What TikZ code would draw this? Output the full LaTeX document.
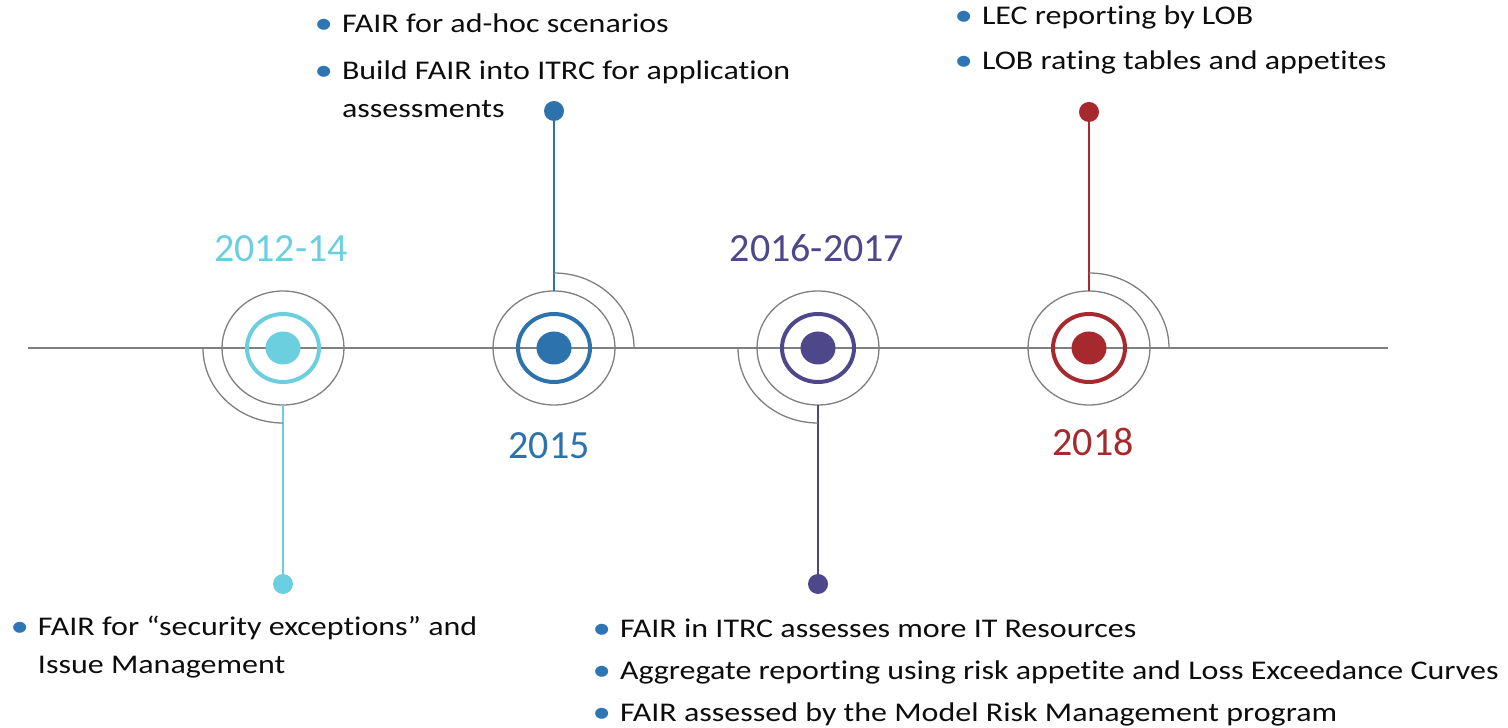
\documentclass[tikz,border=0pt]{standalone}
\usepackage{fontspec}
\setmainfont{Carlito}
\newfontfamily\wide[FakeStretch=1.185,Ligatures=NoCommon]{Carlito}
\usetikzlibrary{positioning,shapes.geometric}
\definecolor{cyanc}{HTML}{6CCFE0}
\definecolor{bluec}{HTML}{2C72AC}
\definecolor{purpc}{HTML}{4E4789}
\definecolor{redc}{HTML}{A6292D}
\definecolor{gline}{HTML}{7F7F7F}
\definecolor{bulc}{HTML}{2E75B6}
\definecolor{txt}{HTML}{0D0D0D}
\newcommand\dotb{\makebox[24pt][l]{\hspace*{-3.5pt}\color{bulc}\raisebox{-0.6pt}{\scalebox{1.15}{\textbullet}}}}
\newcommand\hang{\hspace*{24pt}}

\begin{document}
\begin{tikzpicture}[x=1pt,y=1pt,
  every node/.style={inner sep=0pt,outer sep=0pt},
  year/.style={font=\fontsize{40}{48}\selectfont,anchor=base},
  item/.style={font=\wide\fontsize{27}{38.5}\selectfont,anchor=base west,align=left,text=txt},
  ring/.style={draw=gline,line width=1.3pt,ellipse,minimum width=122pt,minimum height=114pt},
  band/.style={draw=#1,line width=4pt,ellipse,minimum width=72pt,minimum height=68pt},
  core/.style={fill=#1,ellipse,minimum width=35pt,minimum height=33pt},
  pin/.style={fill=#1,circle,minimum size=20pt},
  stem/.style={draw=#1,line width=2pt},
  gl/.style={draw=gline,line width=1.3pt}]
  \useasboundingbox (0,0) rectangle (1508,728);
  \coordinate (lft) at (28,380);
  \coordinate (rgt) at (1388,380);
  \draw[gl] (lft) -- (rgt);

  % 2012-14
  \node[ring] (o1) at (283,380) {};
  \node[band=cyanc] (b1) at (o1) {};
  \node[core=cyanc] (c1) at (o1) {};
  \node[pin=cyanc] (p1) at (283,144) {};
  \draw[stem=cyanc] (o1.south) -- (p1);
  \draw[gl] (o1.center) ++(-80,0) arc[start angle=180,end angle=270,x radius=80,y radius=75];
  \node[year,text=cyanc] (y1) at (281,466) {2012-14};
  \node[item] (t1) at (14,54) {\dotb FAIR for “security exceptions” and\\\hang Issue Management};

  % 2015
  \node[ring] (o2) at (554,380) {};
  \node[band=bluec] (b2) at (o2) {};
  \node[core=bluec] (c2) at (o2) {};
  \node[pin=bluec] (p2) at (554,617) {};
  \draw[stem=bluec] (o2.north) -- (p2);
  \draw[gl] (o2.center) ++(0,75) arc[start angle=90,end angle=0,x radius=80,y radius=75];
  \node[year,text=bluec] (y2) at (549,269) {2015};
  \node[item] (t2a) at (318,695) {\dotb FAIR for ad-hoc scenarios};
  \node[item] (t2b) at (318,610) {\dotb Build FAIR into ITRC for application\\\hang assessments};

  % 2016-2017
  \node[ring] (o3) at (818,380) {};
  \node[band=purpc] (b3) at (o3) {};
  \node[core=purpc] (c3) at (o3) {};
  \node[pin=purpc] (p3) at (818,144) {};
  \draw[stem=purpc] (o3.south) -- (p3);
  \draw[gl] (o3.center) ++(-80,0) arc[start angle=180,end angle=270,x radius=80,y radius=75];
  \node[year,text=purpc] (y3) at (817,466) {2016-2017};
  \node[item] (t3a) at (596,90) {\dotb FAIR in ITRC assesses more IT Resources};
  \node[item] (t3b) at (596,48) {\dotb Aggregate reporting using risk appetite and Loss Exceedance Curves};
  \node[item] (t3c) at (596,6) {\dotb FAIR assessed by the Model Risk Management program};

  % 2018
  \node[ring] (o4) at (1089,380) {};
  \node[band=redc] (b4) at (o4) {};
  \node[core=redc] (c4) at (o4) {};
  \node[pin=redc] (p4) at (1089,616) {};
  \draw[stem=redc] (o4.north) -- (p4);
  \draw[gl] (o4.center) ++(0,75) arc[start angle=90,end angle=0,x radius=80,y radius=75];
  \node[year,text=redc] (y4) at (1093,272) {2018};
  \node[item] (t4a) at (958,703) {\dotb LEC reporting by LOB};
  \node[item] (t4b) at (958,658) {\dotb LOB rating tables and appetites};
\end{tikzpicture}
\end{document}
